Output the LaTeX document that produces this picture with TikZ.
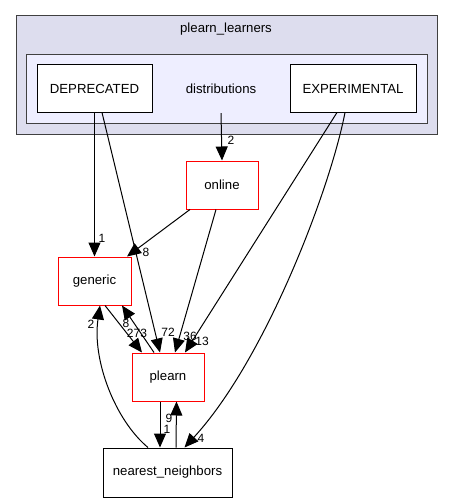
\documentclass[tikz,border=0pt]{standalone}
\usepackage{fontspec}
\setmainfont{Liberation Sans}
\usetikzlibrary{arrows.meta}
\definecolor{outerfill}{HTML}{DDDDEE}
\definecolor{innerfill}{HTML}{EEEEFF}
\definecolor{frame}{HTML}{404040}
\tikzset{
  box/.style={draw=black, fill=white, line width=1pt, minimum height=47pt, inner sep=0pt, font=\fontsize{13.2}{14}\selectfont},
  redbox/.style={draw=red, fill=white, line width=1pt, minimum height=48pt, inner sep=0pt, font=\fontsize{13.2}{14}\selectfont},
  edge/.style={line width=1pt, -{Triangle[length=14pt,width=12pt]}},
  lbl/.style={inner sep=0pt, font=\fontsize{12}{13}\selectfont},
}
\begin{document}
\begin{tikzpicture}[x=1pt,y=-1pt]
\useasboundingbox (0,0) rectangle (453,503);
\fill[white] (0,0) rectangle (453,503);
% clusters
\draw[frame, fill=outerfill, line width=1pt] (16,16) rectangle (437,134);
\node[font=\fontsize{13.2}{14}\selectfont] (title) at (226,29) {plearn\_learners};
\draw[frame, fill=innerfill, line width=1pt] (26,55) rectangle (427,123);
% nodes
\node[box, minimum width=115pt] (dep) at (94.5,88.5) {DEPRECATED};
\node[minimum height=48pt, inner sep=0pt, font=\fontsize{13.2}{14}\selectfont] (distr) at (221,89) {distributions};
\node[box, minimum width=126pt] (exp) at (353,88.5) {EXPERIMENTAL};
\node[redbox, minimum width=72pt] (online) at (222,185) {online};
\node[redbox, minimum width=73pt] (generic) at (94.5,281) {generic};
\node[redbox, minimum width=72pt] (plearn) at (168,377) {plearn};
\node[box, minimum width=129pt, minimum height=49pt] (nn) at (167.5,472.5) {nearest\_neighbors};
% edges
\draw[edge] (distr.south) -- (online.north);
\draw[edge] (dep.south) -- (generic.north);
\draw[edge] ([xshift=7.5pt]dep.south) -- ([xshift=-8pt]plearn.north);
\draw[edge] ([xshift=-32pt]online.south) -- ([xshift=32.5pt]generic.north);
\draw[edge] ([xshift=-6pt]online.south) -- ([xshift=7pt]plearn.north);
\draw[edge] ([xshift=-16pt]exp.south) -- ([xshift=17pt]plearn.north);
\draw[edge] ([xshift=-8pt]exp.south) .. controls (330,190) and (265,360) .. ([xshift=17pt]nn.north);
\draw[edge] ([xshift=10.5pt]generic.south) -- ([xshift=-26pt]plearn.north);
\draw[edge] ([xshift=-14pt]plearn.north) -- ([xshift=27.5pt]generic.south);
\draw[edge] ([xshift=-8pt]plearn.south) -- ([xshift=-7.5pt]nn.north);
\draw[edge] ([xshift=8.5pt]nn.north) -- ([xshift=8.5pt]plearn.south);
\draw[edge] ([xshift=-19.5pt]nn.north) .. controls (115,420) and (92,360) .. ([xshift=5.5pt]generic.south);
% labels
\node[lbl] (l1) at (231,140) {2};
\node[lbl] (l2) at (102,238) {1};
\node[lbl] (l3) at (146,252) {8};
\node[lbl] (l4) at (91,324) {2};
\node[lbl] (l5) at (126,323) {8};
\node[lbl] (l6) at (137,333) {273};
\node[lbl] (l7) at (168,332) {72};
\node[lbl] (l8) at (190,336) {36};
\node[lbl] (l9) at (202,341) {13};
\node[lbl] (l10) at (169,418) {9};
\node[lbl] (l11) at (167,429) {1};
\node[lbl] (l12) at (201,438) {4};
\end{tikzpicture}
\end{document}
